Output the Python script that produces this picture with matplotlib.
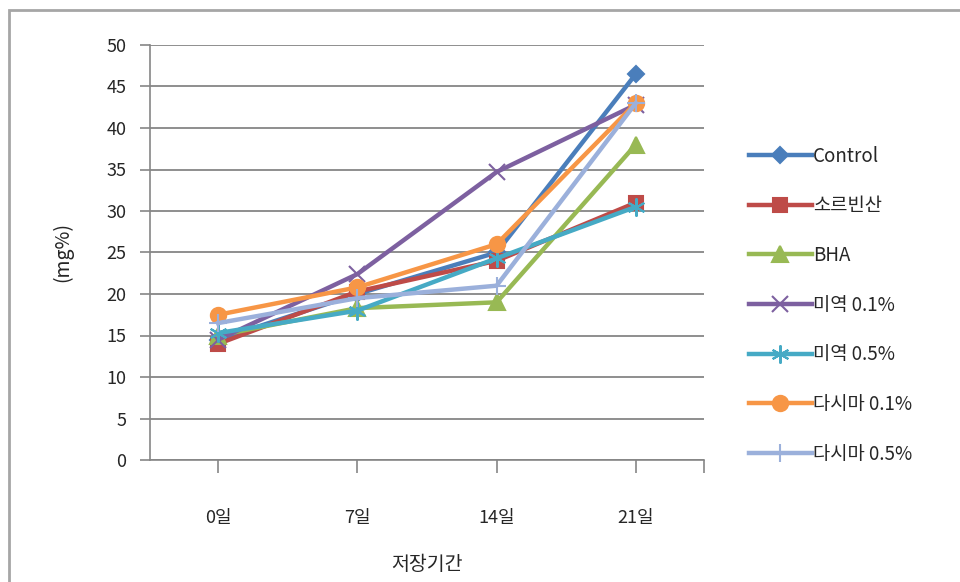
import matplotlib.pyplot as plt
from matplotlib.patches import Rectangle

plt.rcParams['font.family'] = ['Noto Sans CJK KR', 'DejaVu Sans']

days = ['0일', '7일', '14일', '21일']
control = [14.5, 20.0, 25.0, 46.5]
sorbic = [14.0, 20.3, 24.0, 31.0]
bha = [15.0, 18.3, 19.0, 38.0]
miyeok_01 = [14.5, 22.4, 34.7, 42.8]
miyeok_05 = [15.3, 18.0, 24.3, 30.5]
dasima_01 = [17.5, 20.8, 26.0, 43.0]
dasima_05 = [16.5, 19.5, 21.0, 43.0]

series = [
    ('Control', control, '#4a7ebb', 'D', 8),
    ('소르빈산', sorbic, '#be4b48', 's', 10),
    ('BHA', bha, '#98b954', '^', 11),
    ('미역 0.1%', miyeok_01, '#7d60a0', 'x', 11),
    ('미역 0.5%', miyeok_05, '#46aac5', (6, 2, 0), 13),
    ('다시마 0.1%', dasima_01, '#f79646', 'o', 11),
    ('다시마 0.5%', dasima_05, '#9bb0db', '+', 13),
]

fig = plt.figure(figsize=(9.6, 5.82), dpi=100)
# outer chart frame
fig.patches.append(Rectangle((9 / 960, -0.1), 1.2, 1 - 10 / 582 + 0.1,
                             transform=fig.transFigure, fill=False,
                             edgecolor='#a6a6a6', linewidth=2))

ax = fig.add_axes([150 / 960, 1 - 460 / 582, (704 - 150) / 960, (460 - 45) / 582])
x = list(range(len(days)))
for name, vals, col, mk, ms in series:
    ax.plot(x, vals, color=col, linewidth=3.2, marker=mk, markersize=ms,
            markeredgecolor=col, markeredgewidth=1.5, label=name)

ax.set_xlim(-0.49, 3.49)
ax.set_ylim(0, 50)
ax.set_yticks(range(0, 51, 5))
ax.set_xticks(x)
ax.set_xticks([3.49], minor=True)
ax.set_xticklabels(days)
ax.yaxis.grid(True, color='#868686', linewidth=1.3)
ax.set_axisbelow(True)
for s in ['top', 'right']:
    ax.spines[s].set_visible(False)
for s in ['left', 'bottom']:
    ax.spines[s].set_color('#868686')
    ax.spines[s].set_linewidth(1.2)
ax.tick_params(axis='y', length=7, color='#868686', width=1.2, labelsize=13,
               pad=10, labelcolor='#262626')
ax.tick_params(axis='x', which='both', length=9, color='#868686', width=1.2,
               labelsize=13, pad=26, labelcolor='#262626')
ax.tick_params(axis='x', which='minor', labelbottom=False)

ax.set_ylabel('(mg%)', fontsize=14, labelpad=24, color='#262626')
ax.set_xlabel('저장기간', fontsize=14, labelpad=20, color='#262626')

fig.legend(loc='upper left', bbox_to_anchor=(741 / 960, 1 - 138 / 582),
           frameon=False, fontsize=13.5, handlelength=3.4, handletextpad=0.05,
           labelspacing=1.53, borderaxespad=0, labelcolor='#262626')

fig.savefig('out.png', dpi=100)
